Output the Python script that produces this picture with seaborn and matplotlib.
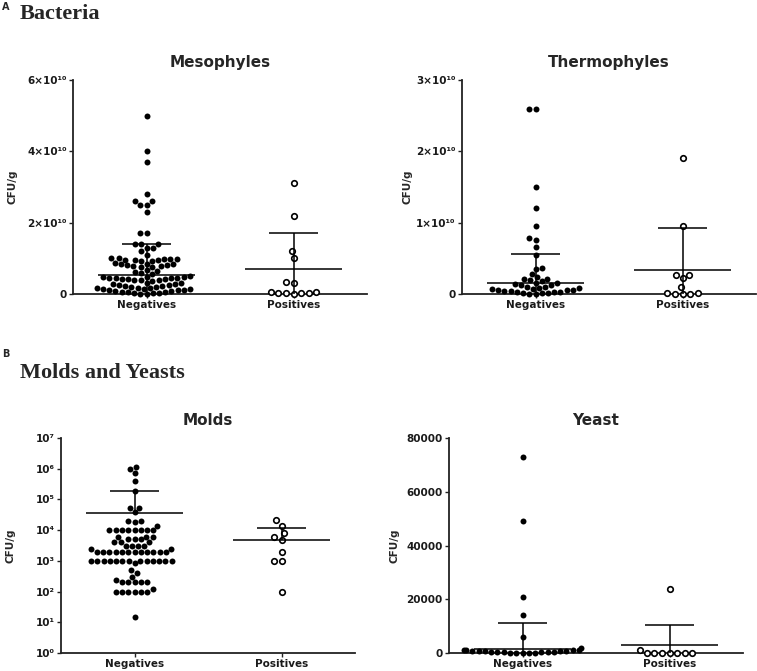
import warnings
import numpy as np
import pandas as pd
import matplotlib
matplotlib.use('Agg')
import matplotlib.pyplot as plt
from matplotlib.ticker import NullLocator
import seaborn as sns

warnings.filterwarnings('ignore')

groups = ['Negatives', 'Positives']

# Mesophyles, CFU/g (x 1e10)
meso_neg = [5.0, 4.0, 3.7, 2.8, 2.6, 2.6, 2.5, 2.5, 2.3, 1.7, 1.7, 1.4, 1.4, 1.4, 1.3, 1.3, 1.2, 1.1,
            1.0, 1.0, 0.99, 0.98, 0.97, 0.96, 0.95, 0.94, 0.93, 0.92,
            0.86, 0.85, 0.84, 0.83, 0.82, 0.80, 0.79, 0.78, 0.76, 0.75,
            0.68, 0.65, 0.62, 0.58, 0.55,
            0.50, 0.49, 0.48, 0.47, 0.46, 0.45, 0.45, 0.44, 0.43, 0.42,
            0.41, 0.40, 0.39, 0.38, 0.37,
            0.32, 0.30, 0.29, 0.27, 0.26, 0.24, 0.23, 0.22, 0.20, 0.19, 0.18, 0.17,
            0.16, 0.15, 0.14, 0.13, 0.12, 0.11, 0.10, 0.09, 0.08, 0.07, 0.06, 0.05, 0.04,
            0.03, 0.02, 0.01, 0.0]
meso_pos = [3.1, 2.2, 1.2, 1.0, 0.345, 0.3, 0.05, 0.03, 0.01, 0.02, 0.03, 0.04, 0.07]
meso_mean = [0.53, 0.69]
meso_upper = [1.40, 1.72]

# Thermophyles, CFU/g (x 1e10)
thermo_neg = [2.6, 2.6, 1.5, 1.2, 0.96, 0.78, 0.76, 0.66, 0.54, 0.36, 0.35, 0.28, 0.24,
              0.21, 0.21, 0.19, 0.18, 0.16, 0.15, 0.14, 0.13, 0.12,
              0.10, 0.095, 0.09, 0.08, 0.075, 0.07, 0.06, 0.055, 0.05, 0.045,
              0.04, 0.035, 0.03, 0.025, 0.02, 0.015, 0.01, 0.005, 0.0]
thermo_pos = [1.9, 0.96, 0.27, 0.22, 0.27, 0.10, 0.01, 0.005, 0.0, 0.005, 0.01]
thermo_mean = [0.15, 0.34]
thermo_upper = [0.56, 0.93]

# Molds, CFU/g
molds_neg = [1.15e6, 1.0e6, 7.3e5, 3.9e5, 1.95e5, 5.3e4, 5.3e4, 3.9e4, 2.0e4, 1.9e4, 2.0e4, 1.4e4,
             1e4, 1e4, 1e4, 1e4, 1e4, 1e4, 1e4, 1e4,
             6e3, 6e3, 5e3, 5e3, 4e3, 4e3, 4e3, 5e3, 6e3,
             3e3, 3e3, 3e3, 3e3, 2.5e3, 2.5e3,
             2e3, 2e3, 2e3, 2e3, 2e3, 2e3, 2e3, 2e3, 2e3, 2e3, 2e3, 2e3,
             1e3, 1e3, 1e3, 1e3, 1e3, 1e3, 1e3, 1e3, 1e3, 1e3, 1e3, 1e3, 1e3, 850,
             500, 400, 300, 234, 200, 200, 200, 200, 200, 120, 100, 100, 100, 100, 100, 100, 15]
molds_pos = [2.1e4, 1.4e4, 8.1e3, 6e3, 4.9e3, 2e3, 1e3, 1e3, 100]
molds_mean = [3.6e4, 4.9e3]
molds_upper = [1.95e5, 1.15e4]

# Yeast, CFU/g
yeast_neg = [73000, 49000, 21000, 14000, 6000, 1900, 1300, 1200, 1100, 1000, 900,
             800, 700, 620, 560, 500, 440, 380, 320, 260, 200, 150, 100, 60, 30, 0]
yeast_pos = [24000, 1200, 0, 0, 0, 0, 0, 0, 0]
yeast_mean = [1600, 2860]
yeast_upper = [11000, 10600]

sns.set_style('ticks')
plt.rcParams['font.family'] = ['DejaVu Sans']
plt.rcParams['font.weight'] = 'bold'

W, H = 757, 671
fig = plt.figure(figsize=(W / 100, H / 100), dpi=100)


def px_axes(left, top, right, bottom):
    return fig.add_axes([left / W, 1 - bottom / H, (right - left) / W, (bottom - top) / H])


def panel(ax, neg, pos, mean, upper, title, ticks, ticklabels, ylim, log=False, label_x=-0.2):
    df = pd.DataFrame({'group': ['Negatives'] * len(neg) + ['Positives'] * len(pos),
                       'value': list(neg) + list(pos)})
    kw = dict(x='group', y='value', order=groups, ax=ax)
    if log:
        kw['log_scale'] = True
    sns.swarmplot(data=df[df.group == 'Negatives'], color='black', size=4.3, linewidth=0, **kw)
    sns.swarmplot(data=df[df.group == 'Positives'], color='white', edgecolor='black',
                  size=4.0, linewidth=1.2, **kw)
    for c in ax.collections:
        c.set_clip_on(False)

    # mean line with SD whisker
    for i, (m, u) in enumerate(zip(mean, upper)):
        low = m if log else m - (u - m)
        ax.hlines(m, i - 0.33, i + 0.33, color='black', lw=1.1, zorder=4)
        ax.hlines(u, i - 0.17, i + 0.17, color='black', lw=1.1, zorder=4)
        ax.vlines(i, low, u, color='black', lw=1.1, zorder=4)

    ax.set_xlim(-0.5, 1.5)
    ax.set_ylim(*ylim)
    ax.set_yticks(ticks)
    ax.set_yticklabels(ticklabels)
    if log:
        ax.yaxis.set_minor_locator(NullLocator())
    ax.set_xticks([0, 1])
    ax.set_xticklabels(groups)
    ax.set_xlabel('')
    ax.set_ylabel('CFU/g', fontsize=7.5, fontweight='bold')
    ax.yaxis.set_label_coords(label_x, 0.5)
    ax.set_title(title, fontsize=11, fontweight='bold', pad=9.7)
    sns.despine(ax=ax)
    for s in ['left', 'bottom']:
        ax.spines[s].set_linewidth(1.3)
        ax.spines[s].set_color('#222222')
    ax.tick_params(axis='both', labelsize=7.5, length=3, width=1, pad=1.5, colors='#222222')
    for t in ax.get_xticklabels() + ax.get_yticklabels():
        t.set_fontweight('bold')
        t.set_color('#1a1a1a')


ax1 = px_axes(73, 80, 367, 294)
panel(ax1, np.array(meso_neg) * 1e10, np.array(meso_pos) * 1e10, np.array(meso_mean) * 1e10,
      np.array(meso_upper) * 1e10, 'Mesophyles', [0, 2e10, 4e10, 6e10],
      ['0', '2×10¹⁰', '4×10¹⁰', '6×10¹⁰'], (0, 6e10), label_x=-0.19)

ax2 = px_axes(462, 80, 756, 294)
panel(ax2, np.array(thermo_neg) * 1e10, np.array(thermo_pos) * 1e10, np.array(thermo_mean) * 1e10,
      np.array(thermo_upper) * 1e10, 'Thermophyles', [0, 1e10, 2e10, 3e10],
      ['0', '1×10¹⁰', '2×10¹⁰', '3×10¹⁰'], (0, 3e10), label_x=-0.17)

ax3 = px_axes(61, 438, 355, 653)
panel(ax3, molds_neg, molds_pos, molds_mean, molds_upper, 'Molds',
      [1, 10, 1e2, 1e3, 1e4, 1e5, 1e6, 1e7],
      ['10⁰', '10¹', '10²', '10³', '10⁴', '10⁵', '10⁶', '10⁷'], (1, 1e7), log=True, label_x=-0.155)

ax4 = px_axes(449, 438, 743, 653)
panel(ax4, yeast_neg, yeast_pos, yeast_mean, yeast_upper, 'Yeast',
      [0, 20000, 40000, 60000, 80000], ['0', '20000', '40000', '60000', '80000'], (0, 80000),
      label_x=-0.17)

fig.text(2 / W, 1 - 10 / H, 'A', fontsize=7, fontweight='bold', va='baseline')
fig.text(20 / W, 1 - 19 / H, 'Bacteria', fontsize=16, fontweight='bold',
         family='Liberation Serif', va='baseline')
fig.text(2 / W, 1 - 357 / H, 'B', fontsize=7, fontweight='bold', va='baseline')
fig.text(20 / W, 1 - 378 / H, 'Molds and Yeasts', fontsize=16, fontweight='bold',
         family='Liberation Serif', va='baseline')

fig.savefig('out.png', dpi=100, facecolor='white')
